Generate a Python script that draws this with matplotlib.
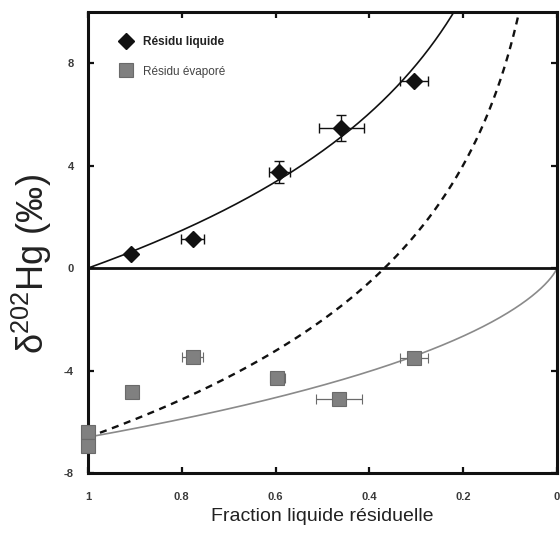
import numpy as np
import matplotlib
matplotlib.use("Agg")
import matplotlib.pyplot as plt
from matplotlib.lines import Line2D

plt.rcParams['font.family'] = ['Liberation Sans', 'DejaVu Sans']
plt.rcParams['mathtext.fontset'] = 'custom'
plt.rcParams['mathtext.rm'] = 'Liberation Sans'

# Liquid residue (black diamonds)
liq_f = [0.908, 0.777, 0.592, 0.460, 0.304]
liq_d = [0.55, 1.15, 3.75, 5.48, 7.32]
liq_xerr = [0.0, 0.025, 0.023, 0.048, 0.030]
liq_yerr = [0.0, 0.0, 0.42, 0.50, 0.0]

# Evaporated residue (grey squares)
eva_f = [1.0, 1.0, 0.906, 0.777, 0.596, 0.464, 0.304]
eva_d = [-6.40, -6.93, -4.82, -3.46, -4.31, -5.13, -3.52]
eva_xerr = [0.0, 0.0, 0.0, 0.023, 0.017, 0.049, 0.030]

# Rayleigh fractionation model
EPS = 6.6
f = np.linspace(1.0, 0.001, 1500)
liquid_model = -EPS * np.log(f)
vapor_inst = -EPS - EPS * np.log(f)
vapor_accum = EPS * f * np.log(f) / (1.0 - f)

x_ticks = [1, 0.8, 0.6, 0.4, 0.2, 0]
x_ticklabels = ['1', '0.8', '0.6', '0.4', '0.2', '0']
y_ticks = [8, 4, 0, -4, -8]
y_ticklabels = ['8', '4', '0', '-4', '-8']

fig = plt.figure(figsize=(5.6, 5.33), dpi=100)
ax = fig.add_axes([88 / 560, 60 / 533, 469 / 560, 461 / 533])

ax.plot(f, liquid_model, color='#111111', lw=1.2, zorder=2)
ax.plot(f, vapor_inst, color='#111111', lw=1.7, ls=(0, (3, 2.4)), zorder=2)
ax.plot(f, vapor_accum, color='#8a8a8a', lw=1.2, zorder=2)
ax.axhline(0, color='#111111', lw=2.0, zorder=2)

ax.errorbar(eva_f, eva_d, xerr=eva_xerr, fmt='s', ms=10, mfc='#808080',
            mec='#6a6a6a', mew=0.8, ecolor='#6a6a6a', elinewidth=0.9,
            capsize=3.5, capthick=0.9, zorder=3, clip_on=False)
ax.errorbar(liq_f, liq_d, xerr=liq_xerr, yerr=liq_yerr, fmt='D', ms=8.5,
            mfc='#111111', mec='#111111', ecolor='#111111', elinewidth=1.0,
            capsize=3.5, capthick=1.0, zorder=4)

ax.set_xlim(1, 0)
ax.set_ylim(-8, 10)
ax.set_xticks(x_ticks)
ax.set_xticklabels(x_ticklabels)
ax.set_yticks(y_ticks)
ax.set_yticklabels(y_ticklabels)

for s in ax.spines.values():
    s.set_linewidth(2.2)
    s.set_color('#111111')
ax.tick_params(axis='both', direction='in', length=4.5, width=1.6,
               top=True, right=True, labelsize=8, labelcolor='#3a3a3a',
               color='#111111')
ax.tick_params(axis='x', pad=14)
ax.tick_params(axis='y', pad=10)
for lab in ax.get_xticklabels() + ax.get_yticklabels():
    lab.set_fontweight('bold')

handles = [
    Line2D([], [], ls='none', marker='D', ms=8.5, mfc='#111111', mec='#111111'),
    Line2D([], [], ls='none', marker='s', ms=10, mfc='#808080', mec='#6a6a6a',
           mew=0.8),
]
leg = ax.legend(handles, ['Résidu liquide', 'Résidu évaporé'],
                loc='upper left', bbox_to_anchor=(0.045, 0.97), frameon=False,
                fontsize=8.5, handlelength=1.0, handletextpad=1.0,
                labelspacing=1.45)
texts = leg.get_texts()
texts[0].set_fontweight('bold')
texts[0].set_color('#222222')
texts[1].set_color('#444444')

ax.set_xlabel('Fraction liquide résiduelle', fontsize=14, color='#222222',
              labelpad=4)
fig.text(32 / 560, 1 - 264 / 533, r'δ$^{\mathrm{202}}$Hg (‰)', fontsize=26,
         rotation=90, ha='center', va='center', color='#222222')

fig.savefig('out.png', dpi=100)
